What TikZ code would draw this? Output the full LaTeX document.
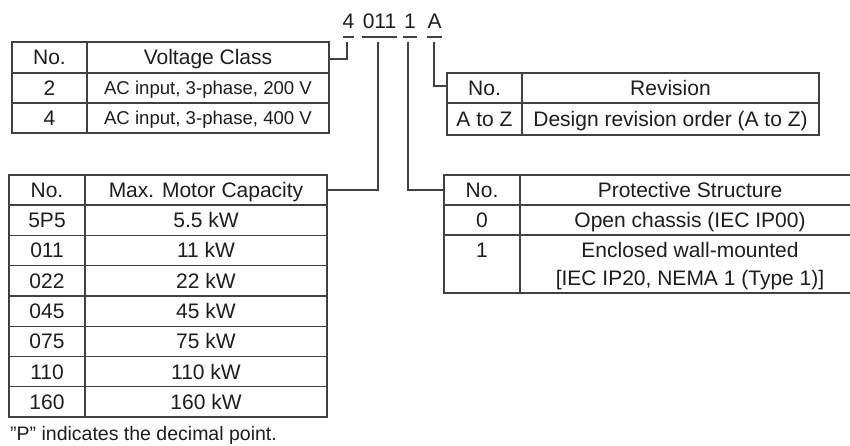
\documentclass[tikz,border=0pt]{standalone}
\usepackage{fontspec}
\setmainfont{Liberation Sans}
\definecolor{linegray}{RGB}{64,64,64}
\definecolor{textblack}{RGB}{30,28,28}
\begin{document}
\begin{tikzpicture}[x=1pt,y=-1pt,
  grid/.style={draw=linegray, line width=1.3pt},
  conn/.style={draw=linegray, line width=1.3pt},
  txt/.style={font=\fontsize{21}{24}\selectfont, text=textblack, inner sep=0pt,
    text height=15pt, text depth=0pt, anchor=center},
  small/.style={txt, font=\fontsize{18.6}{22}\selectfont, text height=13.3pt},
  note/.style={txt, font=\fontsize{19.5}{23}\selectfont, text height=14pt, anchor=west}]
\useasboundingbox (0,0) rectangle (850,446);

% ---------- model code ----------
\node[txt] (c4)   at (348.5,21) {4};
\node[txt] (c011) at (379.5,21) {011};
\node[txt] (c1)   at (410,21)   {1};
\node[txt] (cA)   at (434.5,21) {A};
\draw[conn] (343,37) -- (354,37);
\draw[conn] (362,37) -- (397,37);
\draw[conn] (403,37) -- (417,37);
\draw[conn] (427,37) -- (442,37);
\coordinate (t4)   at (347,42);
\coordinate (t011) at (378,42);
\coordinate (t1)   at (408,42);
\coordinate (tA)   at (434,42);

% ---------- Voltage class table ----------
\draw[grid] (12,42) rectangle (329,133);
\draw[grid] (87,42) -- (87,133);
\draw[grid] (12,73) -- (329,73) (12,103) -- (329,103);
\node[txt] (vh1) at (49.5,57.5) {No.};
\node[txt] (vh2) at (208,57.5) {Voltage Class};
\node[txt] (v11) at (49.5,88) {2};
\node[small] (v12) at (208,88) {AC input, 3-phase, 200 V};
\node[txt] (v21) at (49.5,118) {4};
\node[small] (v22) at (208,118) {AC input, 3-phase, 400 V};
\coordinate (vconn) at (329,59);

% ---------- Max motor capacity table ----------
\draw[grid] (9,175) rectangle (327,417.1);
\draw[grid] (85,175) -- (85,417.1);
\foreach \yy in {205,235.3,265.6,295.9,326.2,356.5,386.8}
  \draw[grid] (9,\yy) -- (327,\yy);
\node[txt] (mh1) at (47,190) {No.};
\node[txt] (mh2) at (206,190) {Max. Motor Capacity};
\node[txt] (m11) at (47,220.15) {5P5};
\node[txt] (m12) at (206,220.15) {5.5 kW};
\node[txt] (m21) at (47,250.45) {011};
\node[txt] (m22) at (206,250.45) {11 kW};
\node[txt] (m31) at (47,280.75) {022};
\node[txt] (m32) at (206,280.75) {22 kW};
\node[txt] (m41) at (47,311.05) {045};
\node[txt] (m42) at (206,311.05) {45 kW};
\node[txt] (m51) at (47,341.35) {075};
\node[txt] (m52) at (206,341.35) {75 kW};
\node[txt] (m61) at (47,371.65) {110};
\node[txt] (m62) at (206,371.65) {110 kW};
\node[txt] (m71) at (47,401.95) {160};
\node[txt] (m72) at (206,401.95) {160 kW};
\node[note] (pnote) at (10,433) {\symbol{34}P\symbol{34} indicates the decimal point.};
\coordinate (mconn) at (327,190);

% ---------- Revision table ----------
\draw[grid] (447,73) rectangle (819,135);
\draw[grid] (522,73) -- (522,135);
\draw[grid] (447,103) -- (819,103);
\node[txt] (rh1) at (484.5,88) {No.};
\node[txt] (rh2) at (670.5,88) {Revision};
\node[txt] (r11) at (484.5,119) {A to Z};
\node[txt] (r12) at (670.5,119) {Design revision order (A to Z)};
\coordinate (rconn) at (447,86);

% ---------- Protective structure table ----------
\draw[grid] (852,175) -- (444,175) -- (444,293) -- (852,293);
\draw[grid] (520,175) -- (520,293);
\draw[grid] (444,205) -- (852,205) (444,235) -- (852,235);
\node[txt] (ph1) at (482,190) {No.};
\node[txt] (ph2) at (690,190) {Protective Structure};
\node[txt] (p11) at (482,220) {0};
\node[txt] (p12) at (690,220) {Open chassis (IEC IP00)};
\node[txt] (p21) at (482,250) {1};
\node[txt] (p22) at (690,250) {Enclosed wall-mounted};
\node[txt] (p23) at (690,278) {[IEC IP20, NEMA 1 (Type 1)]};
\coordinate (pconn) at (444,190);

% ---------- connectors ----------
\draw[conn] (t4) |- (vconn);
\draw[conn] (t011) |- (mconn);
\draw[conn] (t1) |- (pconn);
\draw[conn] (tA) |- (rconn);
\end{tikzpicture}
\end{document}
